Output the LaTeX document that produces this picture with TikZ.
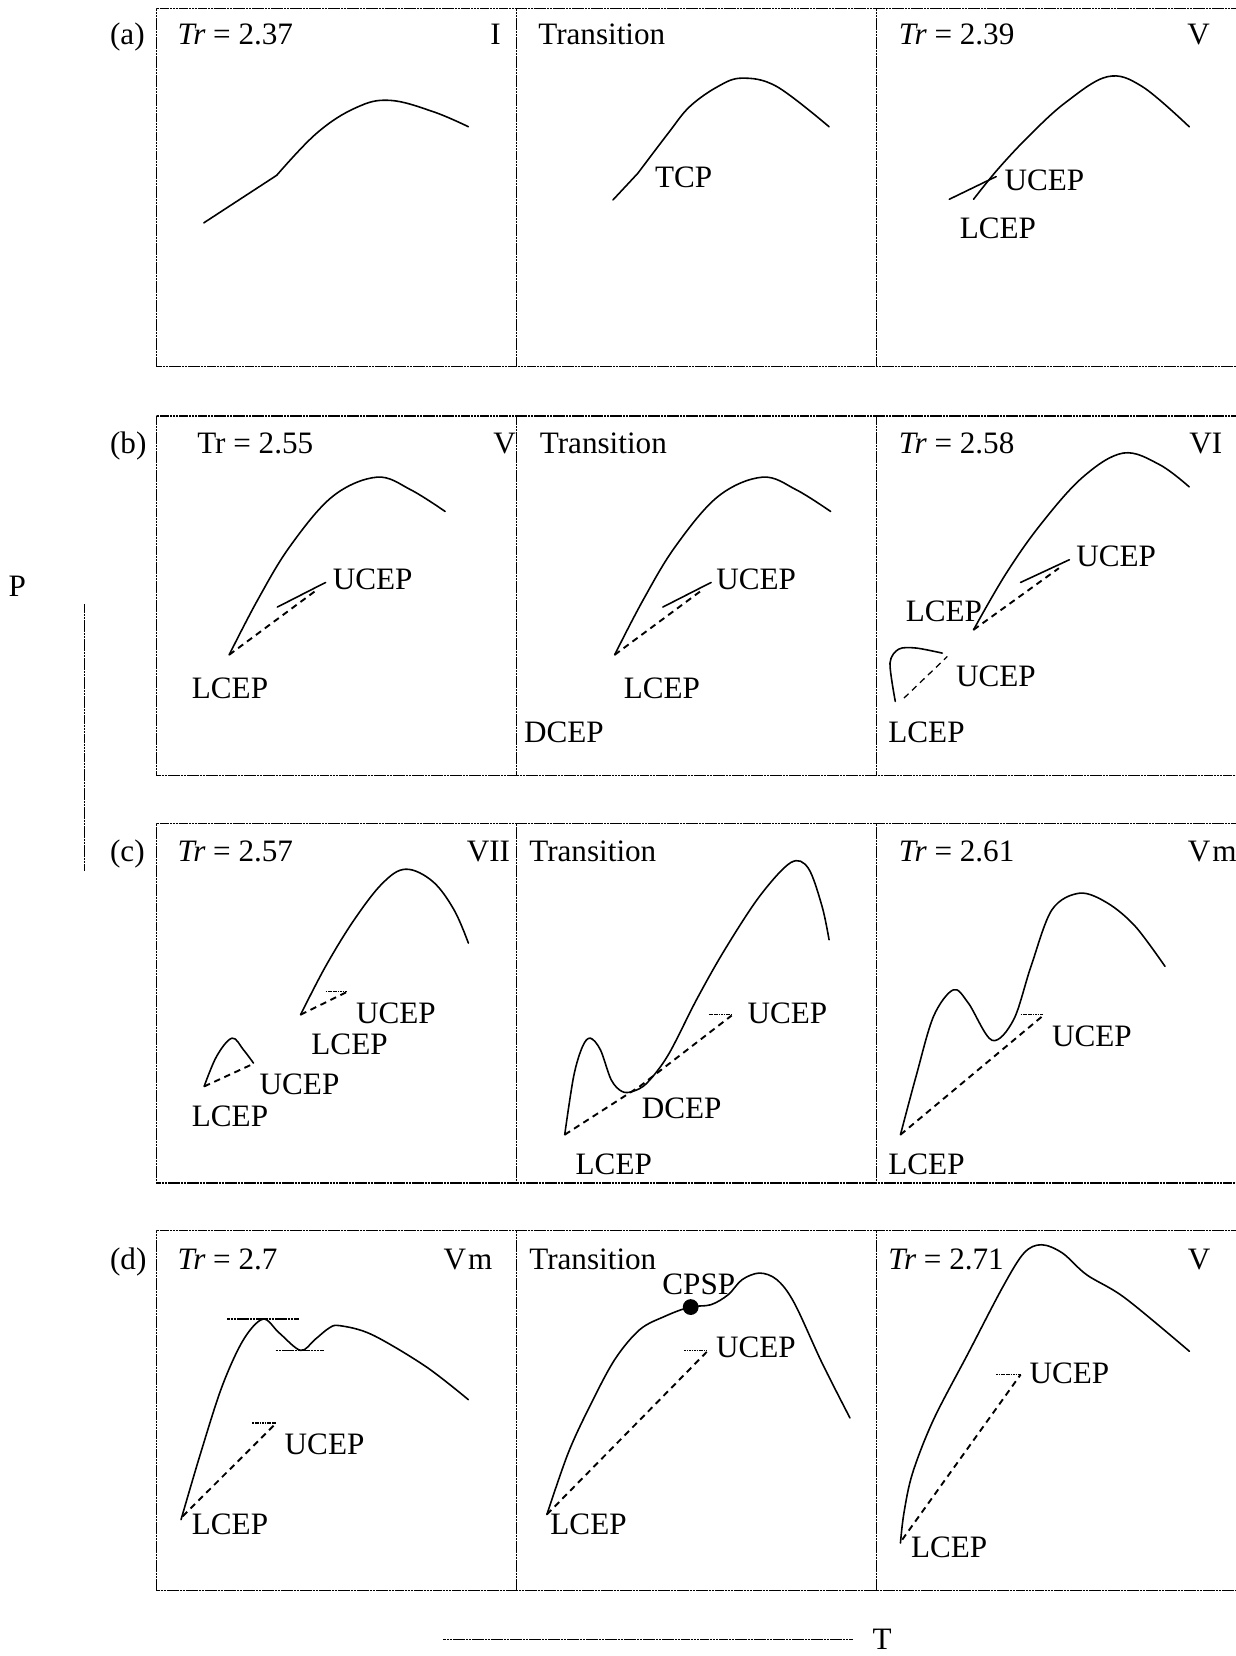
\documentclass[tikz,border=0pt]{standalone}
\usepackage{fontspec}
\setmainfont{Liberation Serif}
\begin{document}
\begin{tikzpicture}[x=1pt,y=-1pt,
  font=\fontsize{29.5}{35}\selectfont,
  curve/.style={line width=1.5pt, line join=round, line cap=round},
  cepline/.style={line width=1.8pt, dash pattern=on 6pt off 4.5pt},
  tipline/.style={line width=1.1pt, dash pattern=on 1.6pt off 0.7pt},
  framel/.style={line width=1.2pt, dash pattern=on 2.5pt off 0.5pt},
  lbl/.style={anchor=base west, inner sep=0pt}]
\useasboundingbox (0,0) rectangle (1170,1568);
% frames
\foreach \t/\b in {8/347, 394/734, 780/1120, 1165/1506}{
  \draw[framel] (1171,\t) -- (148,\t) -- (148,\b) -- (1171,\b);
  \draw[framel] (489,\t) -- (489,\b);
  \draw[framel] (830,\t) -- (830,\b);
}
% axes
\node[lbl] (P) at (8,565) {P};
\draw[framel] (80,572) -- (80,825);
\node[lbl] (T) at (826,1562) {T};
\draw[framel] (419.8,1552.4) -- (808,1552.4);
% row labels
\node[lbl] (la) at (104,42.6) {(a)};
\node[lbl] (lb) at (104,429) {(b)};
\node[lbl] (lc) at (104,815.7) {(c)};
\node[lbl] (ld) at (104,1202) {(d)};

% ---------- row (a)
\node[lbl] (a1t) at (168,42.6) {\itshape Tr\upshape{} = 2.37};
\node[lbl] (a1r) at (464,42.6) {I};
\draw[curve] (193,211) -- (262,166);
\draw[curve] plot[smooth, tension=0.65] coordinates {(262,166) (300,126) (337,102) (369,95) (410,105.7) (443.5,120)};

\node[lbl] (a2t) at (509.5,42.6) {Transition};
\draw[curve] (580.4,189.3) -- (604,164);
\draw[curve] plot[smooth, tension=0.6] coordinates {(604,164) (632.8,126) (653,101) (679.6,82) (702.6,74) (735.6,82) (785,120)};
\node[lbl] (a2c) at (620,178) {TCP};

\node[lbl] (a3t) at (851,42.6) {\itshape Tr\upshape{} = 2.39};
\node[lbl] (a3r) at (1124,42.6) {V};
\draw[curve] (898.8,188.7) -- (943.2,167.2);
\draw[curve] plot[smooth, tension=0.6] coordinates {(921.8,188.7) (945,160) (975,128) (1009,97) (1048.7,72.6) (1081.6,82) (1126,120)};
\node[lbl] (a3u) at (951,180) {UCEP};
\node[lbl] (a3l) at (908.6,225.6) {LCEP};

% ---------- row (b)
\node[lbl] (b1t) at (186.6,429) {Tr = 2.55};
\node[lbl] (b1r) at (467,429) {V};
\draw[curve] plot[smooth, tension=0.6] coordinates {(217,620) (244,568) (274.5,517.4) (315,470) (357,451.8) (389,463.8) (421.5,484.3)};
\draw[cepline] (217,620) -- (298,560);
\draw[curve] (262.6,574.8) -- (308.3,551.5);
\node[lbl] (b1u) at (315,558.5) {UCEP};
\node[lbl] (b1l) at (181.5,661) {LCEP};

\node[lbl] (b2t) at (511,429) {Transition};
\draw[curve] plot[smooth, tension=0.6] coordinates {(582,620) (609,568) (639.5,517.4) (680,470) (722,451.8) (754,463.8) (786.5,484.3)};
\draw[cepline] (582,620) -- (663,560);
\draw[curve] (627.6,574.8) -- (673.3,551.5);
\node[lbl] (b2u) at (678,558.5) {UCEP};
\node[lbl] (b2l) at (590.5,661) {LCEP};
\node[lbl] (b2d) at (496,703.5) {DCEP};

\node[lbl] (b3t) at (851,429) {\itshape Tr\upshape{} = 2.58};
\node[lbl] (b3r) at (1126,429) {VI};
\draw[curve] plot[smooth, tension=0.6] coordinates {(921.8,596.3) (952,544) (985,497) (1025,452) (1063.5,429) (1098,440) (1126,461)};
\draw[cepline] (921.8,596.3) -- (1002.6,538);
\draw[curve] (966.3,551.5) -- (1012.5,530);
\node[lbl] (b3u) at (1019,536.4) {UCEP};
\node[lbl] (b3l) at (857.5,588.4) {LCEP};
\draw[curve] plot[smooth, tension=0.5] coordinates {(847.7,664.1) (842.7,627.9) (851,614.6) (867.4,613.6) (892.2,618.4)};
\draw[cepline, line width=1.2pt] (855.9,661) -- (897,621.6);
\node[lbl] (b3u2) at (905,650) {UCEP};
\node[lbl] (b3l2) at (841,703.5) {LCEP};

% ---------- row (c)
\node[lbl] (c1t) at (168,815.7) {\itshape Tr\upshape{} = 2.57};
\node[lbl] (c1r) at (441.8,815.7) {VII};
\draw[curve] plot[smooth, tension=0.6] coordinates {(284.6,960.8) (308.3,915) (335.3,871) (362.3,836.2) (384.3,823) (409.7,834.6) (429.9,861.5) (443.5,893)};
\draw[cepline] (284.6,960.8) -- (328.5,939.2);
\draw[tipline] (308.3,938.7) -- (328.5,938.7);
\node[lbl] (c1u) at (337,968.7) {UCEP};
\node[lbl] (c1l) at (294.7,998.7) {LCEP};
\draw[curve] plot[smooth, tension=0.6] coordinates {(193.3,1028.7) (205.2,1000) (219.7,983) (230.5,994) (240,1006.6)};
\draw[cepline] (193.3,1028.7) -- (240,1007.2);
\node[lbl] (c1u2) at (245.7,1036.5) {UCEP};
\node[lbl] (c1l2) at (181.5,1066.5) {LCEP};

\node[lbl] (c2t) at (501,815.7) {Transition};
\draw[curve] plot[smooth, tension=0.55] coordinates {(534.7,1074.4) (543.2,1019) (551.6,990.8) (559,983) (568.5,994) (578.7,1022.4) (588.8,1033.4) (599,1033.4) (612.5,1025.5) (632.8,998.7) (659.8,946) (686.2,899.3) (719.1,848.8) (748.8,816.7) (765.3,822) (778.4,858.3) (785,889.8)};
\draw[cepline] (534.7,1074.4) -- (605.7,1028.7) -- (692.8,961.5);
\draw[tipline] (671.3,960.8) -- (692.8,960.8);
\node[lbl] (c2u) at (707.6,968.7) {UCEP};
\node[lbl] (c2d) at (607.5,1058.6) {DCEP};
\node[lbl] (c2l) at (544.9,1112.3) {LCEP};

\node[lbl] (c3t) at (851,815.7) {\itshape Tr\upshape{} = 2.61};
\node[lbl] (c3r) at (1124.5,815.7) {V\kern2pt m};
\draw[curve] plot[smooth, tension=0.55] coordinates {(852.6,1074.4) (867.4,1019) (883.9,962.4) (902.7,937.2) (916.9,949.8) (939.3,985) (959.7,965.6) (976.2,915) (996,861.5) (1022.3,845.7) (1048.7,855.1) (1075,877.2) (1103.1,915)};
\draw[cepline] (852.6,1074.4) -- (987.8,961.5);
\draw[tipline] (966.3,960.8) -- (987.8,960.8);
\node[lbl] (c3u) at (996,990.8) {UCEP};
\node[lbl] (c3l) at (841,1112.3) {LCEP};

% ---------- row (d)
\node[lbl] (d1t) at (168,1202) {\itshape Tr\upshape{} = 2.7};
\node[lbl] (d1r) at (419.8,1202) {V\kern2pt m};
\draw[curve] plot[smooth, tension=0.55] coordinates {(171.4,1438.9) (190,1375.8) (210.3,1312.6) (230.5,1268.5) (249.1,1249) (264.3,1262) (284.6,1278.6) (298,1268.5) (311.7,1257.4) (321.8,1255.2) (352.2,1263.7) (402.9,1293.7) (443.5,1325.3)};
\draw[framel] (215.3,1249) -- (283,1249);
\draw[framel] (261,1279) -- (306.6,1279);
\draw[cepline] (173,1435.7) -- (261,1348);
\draw[tipline] (239,1347.4) -- (261,1347.4);
\node[lbl] (d1u) at (269.4,1377.3) {UCEP};
\node[lbl] (d1l) at (181.5,1453) {LCEP};

\node[lbl] (d2t) at (501,1202) {Transition};
\node[lbl] (d2c) at (627,1226) {CPSP};
\draw[curve] plot[smooth, tension=0.55] coordinates {(517.8,1434) (538,1375.8) (558.4,1331.6) (582,1287.4) (605.7,1259) (629.4,1246.4) (653,1237.6) (673,1235.4) (689.5,1225.9) (702.6,1211.7) (719.1,1205.4) (735.6,1211.7) (752.1,1233.8) (778.4,1290.6) (804.8,1342.6)};
\fill (654,1237.6) circle (7.5);
\draw[cepline] (517.8,1434) -- (669.7,1279.5);
\draw[tipline] (648,1278.9) -- (669.7,1278.9);
\node[lbl] (d2u) at (677.9,1285.8) {UCEP};
\node[lbl] (d2l) at (521,1453) {LCEP};

\node[lbl] (d3t) at (841,1202) {\itshape Tr\upshape{} = 2.71};
\node[lbl] (d3r) at (1124.5,1202) {V};
\draw[curve] plot[smooth, tension=0.55] coordinates {(852.6,1461) (855.9,1432.5) (864.1,1394.7) (883.9,1344.2) (916.9,1281) (949.8,1218) (969.6,1186.4) (986.1,1178.6) (1005.9,1186.4) (1028.9,1207) (1065.2,1229) (1126.2,1279.5)};
\draw[cepline] (854.3,1457.8) -- (966.3,1301.6);
\draw[tipline] (943.2,1301.6) -- (966.3,1301.6);
\node[lbl] (d3u) at (974.6,1309.5) {UCEP};
\node[lbl] (d3l) at (862.5,1475) {LCEP};
\end{tikzpicture}
\end{document}
